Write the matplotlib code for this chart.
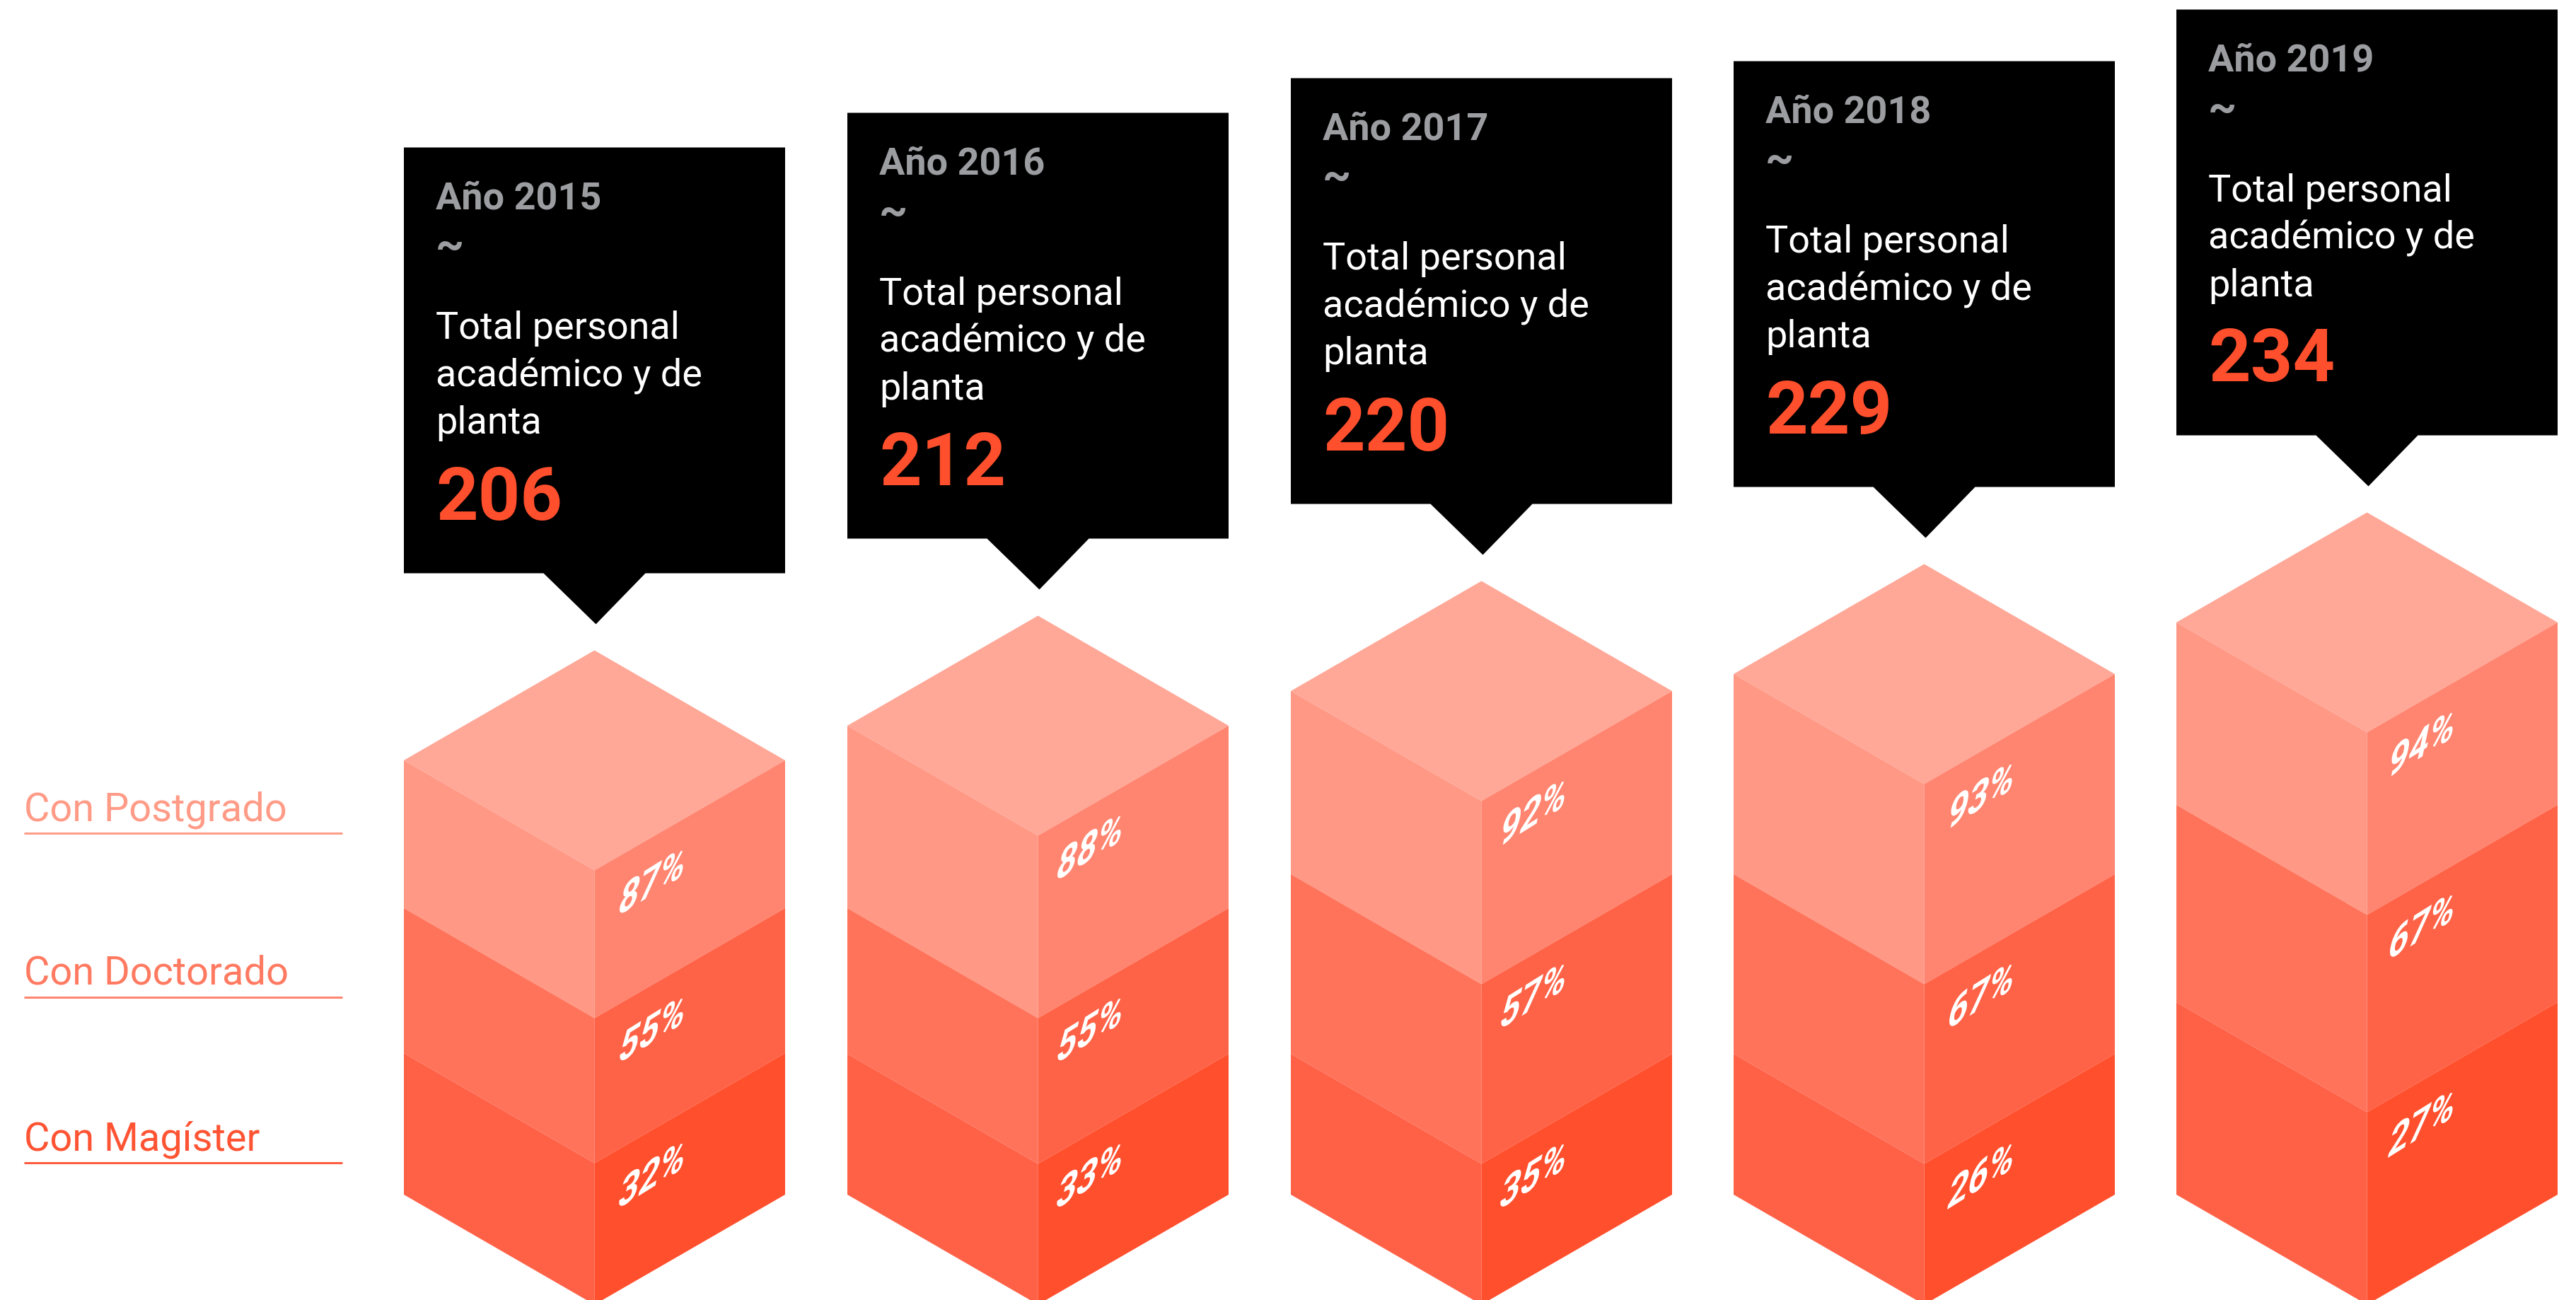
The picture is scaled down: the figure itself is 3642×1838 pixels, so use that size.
"""
Personal académico y de planta : cubos isométricos por año.
"""

import matplotlib
matplotlib.use("Agg")
import matplotlib.pyplot as plt
from matplotlib.colors import to_rgb
from matplotlib.patches import Polygon
from matplotlib.text import Text
from matplotlib.textpath import TextPath
from matplotlib.transforms import Affine2D

# ── Datos ───────────────────────────────────────────
years = [2015, 2016, 2017, 2018, 2019]
totals = [206, 212, 220, 229, 234]
pct_postgrado = [87, 88, 92, 93, 94]
pct_doctorado = [55, 55, 57, 67, 67]
pct_magister = [32, 33, 35, 26, 27]

# alturas de cada banda (px)
h_postgrado = [209, 258, 259, 283, 258]
h_doctorado = [205, 206, 254, 254, 279]
h_magister = [200, 199, 199, 199, 272]

legend_labels = ["Con Postgrado", "Con Doctorado", "Con Magíster"]
box_text = "Total personal\nacadémico y de\nplanta"

# ── Layout (px, figura de 3642x1838) ────────────────
W, H = 3642, 1838
col_left = [571, 1198, 1825, 2451, 3077]
col_w = 539
depth = 155.5
base_y = 1689
label_dx = [31, 23, 23, 30, 27]
legend_y = [1161, 1392, 1627]
legend_line_y = [1178, 1410, 1644]

TOP = "#FFA898"
LEFT = ["#FF9885", "#FF735A", "#FF6147"]
RIGHT = ["#FF8570", "#FF6347", "#FF4F2D"]
LEGEND_TEXT = ["#FF9B87", "#FF7A61", "#FF5433"]
LEGEND_LINE = ["#FF9B87", "#FF8570", "#FF5B3E"]
ORANGE = "#FF4F2D"
GREY = "#9C9DA1"
FONT = "Roboto"

PX = 72 / 100  # px -> pt a dpi 100


class IsoText(Text):
    """Texto real dibujado con la cizalla de la cara derecha del cubo."""

    def draw(self, renderer):
        size = self.get_fontsize() / PX
        path = TextPath((0, 0), self.get_text(), size=size,
                        prop=self.get_fontproperties())
        x, y = self.get_transform().transform(self.get_position())
        tr = Affine2D.from_values(0.8, 0.5, 0.22, 1.05, x, y)
        gc = renderer.new_gc()
        gc.set_linewidth(0)
        renderer.draw_path(gc, path, tr, to_rgb(self.get_color()))
        gc.restore()


fig = plt.figure(figsize=(W / 100, H / 100), dpi=100, facecolor="white")
ax = fig.add_axes([0, 0, 1, 1])
ax.set_xlim(0, W)
ax.set_ylim(H, 0)
ax.axis("off")

# ── Leyenda ─────────────────────────────────────────
for i, lab in enumerate(legend_labels):
    ax.text(34, legend_y[i], lab, color=LEGEND_TEXT[i], fontsize=56 * PX,
            family=FONT, ha="left", va="baseline")
    ax.plot([34, 484], [legend_line_y[i]] * 2, color=LEGEND_LINE[i],
            lw=3 * PX, solid_capstyle="butt")

# ── Columnas ────────────────────────────────────────
for c, year in enumerate(years):
    xl = col_left[c]
    xc = xl + col_w / 2
    xr = xl + col_w

    heights = [h_postgrado[c], h_doctorado[c], h_magister[c]]
    pcts = [pct_postgrado[c], pct_doctorado[c], pct_magister[c]]
    y_top = base_y - sum(heights)

    # cara superior
    ax.add_patch(Polygon(
        [(xl, y_top), (xc, y_top - depth), (xr, y_top), (xc, y_top + depth)],
        facecolor=TOP, edgecolor="none"))

    y = y_top
    for b in range(3):
        y2 = y + heights[b]
        ax.add_patch(Polygon(
            [(xl, y), (xc, y + depth), (xc, y2 + depth), (xl, y2)],
            facecolor=LEFT[b], edgecolor="none"))
        ax.add_patch(Polygon(
            [(xc, y + depth), (xr, y), (xr, y2), (xc, y2 + depth)],
            facecolor=RIGHT[b], edgecolor="none"))
        ax.add_artist(IsoText(
            xc + label_dx[c], y + depth + 66, f"{pcts[b]}%",
            color="white", fontsize=62 * PX, family=FONT, weight="bold",
            transform=ax.transData))
        y = y2

    # caja negra con pico
    box_top = y_top - depth - 711
    box_bot = box_top + 602
    ax.add_patch(Polygon(
        [(xl, box_top), (xr, box_top), (xr, box_bot), (xc + 72, box_bot),
         (xc + 2, box_bot + 72), (xc - 72, box_bot), (xl, box_bot)],
        facecolor="black", edgecolor="none"))

    xt = xl + 45
    ax.text(xt, box_top + 87, f"Año {year}", color=GREY, fontsize=54 * PX,
            family=FONT, weight="bold", va="baseline")
    ax.text(xt, box_top + 157, "~", color=GREY, fontsize=62 * PX,
            family=FONT, weight="bold", va="baseline")
    for j, line in enumerate(box_text.split("\n")):
        ax.text(xt, box_top + 271 + j * 67, line, color="white",
                fontsize=54 * PX, family=FONT, va="baseline")
    ax.text(xt, box_top + 526, f"{totals[c]}", color=ORANGE, fontsize=104 * PX,
            family=FONT, weight="bold", va="baseline")

fig.savefig("out.png", dpi=100, facecolor="white")
